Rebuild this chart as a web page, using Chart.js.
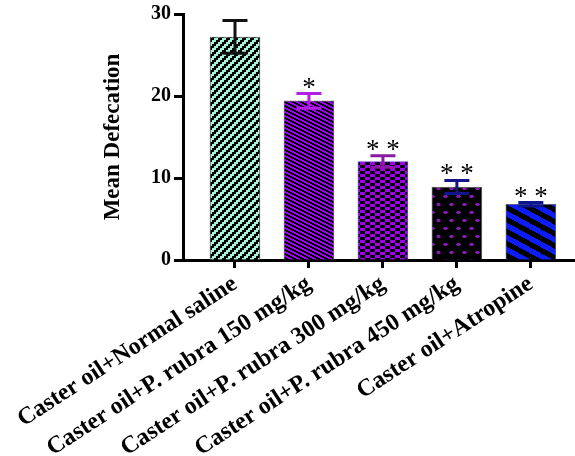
<!DOCTYPE html>
<html>
<head>
<meta charset="utf-8">
<script src="https://cdn.jsdelivr.net/npm/chart.js@4/dist/chart.umd.min.js"></script>
<style>
  html, body { margin: 0; padding: 0; background: #ffffff; }
  #wrap { width: 575px; height: 456px; }
</style>
</head>
<body>
<div id="wrap"><canvas id="chart" width="575" height="456"></canvas></div>
<script>
// Treatment groups
const categories = [
  'Caster oil+Normal saline',
  'Caster oil+P. rubra 150 mg/kg',
  'Caster oil+P. rubra 300 mg/kg',
  'Caster oil+P. rubra 450 mg/kg',
  'Caster oil+Atropine'
];
// Mean number of defecations and their error (SEM)
const meanDefecation = [27.2, 19.4, 12.0, 8.9, 6.8];
const semValues = [2.0, 0.9, 0.7, 0.8, 0.2];
// Significance marks versus control
const significance = ['', '*', '* *', '* *', '* *'];
// Y axis ticks
const yTicks = [0, 10, 20, 30];

const canvas = document.getElementById('chart');
const ctx = canvas.getContext('2d');

function makePattern(w, h, paint) {
  const c = document.createElement('canvas');
  c.width = w; c.height = h;
  const g = c.getContext('2d');
  paint(g, w, h);
  return ctx.createPattern(c, 'repeat');
}

// mint with black "/" stepped stripes
const patSaline = makePattern(8, 8, (g, w, h) => {
  g.fillStyle = '#a8f2da'; g.fillRect(0, 0, w, h);
  g.fillStyle = '#000';
  for (let r = 0; r < 4; r++) {
    const s = (8 - 2 * r) % 8;
    g.fillRect(s, r * 2, 4, 2);
    g.fillRect(s - 8, r * 2, 4, 2);
  }
});
// purple with black "\" stripes
const pat150 = makePattern(8, 4, (g, w, h) => {
  g.fillStyle = '#9e00f2'; g.fillRect(0, 0, w, h);
  g.fillStyle = '#000';
  for (let r = 0; r < 4; r++) {
    const s = 2 * r;
    g.fillRect(s, r, 4, 1);
    g.fillRect(s - 8, r, 4, 1);
  }
});
// purple / black checkerboard
const pat300 = makePattern(10, 6, (g, w, h) => {
  g.fillStyle = '#000'; g.fillRect(0, 0, w, h);
  g.fillStyle = '#a000ee';
  g.fillRect(0, 0, 5, 3);
  g.fillRect(5, 3, 5, 3);
});
// black with staggered purple dots
const pat450 = makePattern(13, 16, (g, w, h) => {
  g.fillStyle = '#000'; g.fillRect(0, 0, w, h);
  g.fillStyle = '#8a14b8';
  const dot = (x, y) => {
    g.fillRect(x - 1, y - 1, 3, 3);
    g.fillRect(x - 2, y, 5, 1);
  };
  dot(3, 4);
  dot(9, 12);
});
// blue with wide black "\" stripes
const patAtropine = makePattern(22, 12, (g, w, h) => {
  const img = g.createImageData(w, h);
  for (let y = 0; y < h; y++) {
    for (let x = 0; x < w; x++) {
      const d = (((y - x * 12 / 22) % 12) + 12) % 12;
      const k = (y * w + x) * 4;
      if (d < 6) { img.data[k] = 0; img.data[k + 1] = 0; img.data[k + 2] = 0; }
      else { img.data[k] = 12; img.data[k + 1] = 28; img.data[k + 2] = 250; }
      img.data[k + 3] = 255;
    }
  }
  g.putImageData(img, 0, 0);
});

const barFills = [patSaline, pat150, pat300, pat450, patAtropine];
const barEdges = ['#5a5a5a', '#7a6a8a', '#6a4ad0', '#6a6a6a', '#5a5a7a'];
const errorColors = ['#111111', '#b21ee6', '#8a1aa2', '#14148a', '#0c1690'];

const serif = '"Liberation Serif", "Times New Roman", serif';

// whiskers and significance stars drawn over the bars
const errorBars = {
  id: 'errorBars',
  afterDatasetsDraw(chart) {
    const { ctx: c, scales: { y } } = chart;
    const meta = chart.getDatasetMeta(0);
    meta.data.forEach((bar, i) => {
      const cx = bar.x;
      const top = y.getPixelForValue(meanDefecation[i] + semValues[i]);
      const bot = y.getPixelForValue(meanDefecation[i] - semValues[i]);
      c.save();
      c.strokeStyle = errorColors[i];
      c.lineWidth = 3;
      c.beginPath();
      c.moveTo(cx, top); c.lineTo(cx, bot);
      c.moveTo(cx - 12.5, top); c.lineTo(cx + 12.5, top);
      c.moveTo(cx - 12.5, bot); c.lineTo(cx + 12.5, bot);
      c.stroke();
      if (significance[i]) {
        c.fillStyle = '#000';
        c.font = '27px ' + serif;
        c.textAlign = 'center';
        c.textBaseline = 'alphabetic';
        c.fillText(significance[i], cx, top + 2);
      }
      c.restore();
    });
  }
};

new Chart(ctx, {
  type: 'bar',
  data: {
    datasets: [{
      data: meanDefecation.map((v, i) => ({ x: i, y: v })),
      backgroundColor: barFills,
      borderColor: barEdges,
      borderWidth: 1,
      barThickness: 50
    }]
  },
  options: {
    responsive: false,
    animation: false,
    devicePixelRatio: 1,
    layout: { padding: { top: 14, right: 0, bottom: 0, left: 0 } },
    plugins: {
      legend: { display: false },
      tooltip: { enabled: false }
    },
    scales: {
      x: {
        type: 'linear',
        offset: false,
        min: -0.703,
        max: 4.597,
        afterBuildTicks: (s) => { s.ticks = categories.map((_, i) => ({ value: i })); },
        afterFit: (s) => { s.height = 196; s.paddingLeft = 0; s.paddingRight = 0; },
        ticks: {
          autoSkip: false,
          maxRotation: 33,
          minRotation: 33,
          padding: 2,
          color: '#000',
          font: { family: serif, size: 24, weight: 'bold' },
          callback: (v, i) => categories[i]
        },
        grid: {
          offset: false,
          drawOnChartArea: false,
          drawTicks: true,
          tickLength: 8,
          tickWidth: 3,
          tickColor: '#000',
          color: '#000'
        },
        border: { display: true, color: '#000', width: 3 }
      },
      y: {
        min: 0,
        max: 30,
        afterBuildTicks: (s) => { s.ticks = yTicks.map(v => ({ value: v })); },
        afterFit: (s) => { s.width = 183; s.paddingTop = 0; s.paddingBottom = 0; },
        ticks: {
          padding: 3,
          color: '#000',
          font: { family: serif, size: 20, weight: 'bold' }
        },
        title: {
          display: true,
          text: 'Mean Defecation',
          color: '#000',
          font: { family: serif, size: 23, weight: 'bold' },
          padding: { top: 99, bottom: 0 }
        },
        grid: {
          drawOnChartArea: false,
          drawTicks: true,
          tickLength: 9,
          tickWidth: 3,
          tickColor: '#000',
          color: '#000'
        },
        border: { display: true, color: '#000', width: 3 }
      }
    }
  },
  plugins: [errorBars]
});
</script>
</body>
</html>
